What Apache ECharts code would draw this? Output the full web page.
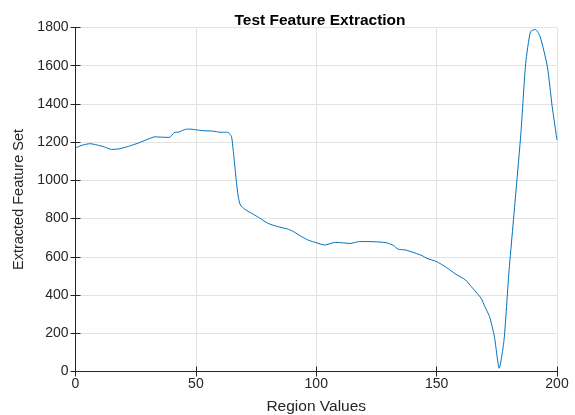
<!DOCTYPE html>
<html>
<head>
<meta charset="utf-8">
<script src="https://cdn.jsdelivr.net/npm/echarts@6/dist/echarts.min.js"></script>
<style>
html, body { margin: 0; padding: 0; background: #fff; }
#chart { width: 575px; height: 415px; }
</style>
</head>
<body>
<div id="chart"></div>
<script>
// region positions
var regionX = [0, 3, 6, 9, 12, 15, 18, 22, 26, 30, 33, 36, 39, 41, 43, 46, 48, 50, 53, 57,
    60, 62, 63.5, 64.8, 65.5, 66.2, 66.9, 67.6, 68.5, 70.3, 73.8, 76.6, 80, 84, 88, 90, 94, 97, 100, 103.5, 108,
    114, 118, 124, 129, 132, 134, 137, 141, 144, 146, 150, 154, 158, 162, 165, 168.5, 170, 172, 174, 176,
    178, 180, 183, 185, 187, 189, 191, 193, 196, 198, 200];
// extracted feature values
var featureY = [1170, 1185, 1192, 1185, 1175, 1162, 1165, 1178, 1195, 1215, 1228, 1226, 1225, 1250, 1253, 1268, 1268, 1265, 1260, 1258,
    1252, 1252, 1250, 1229, 1159, 1072, 985, 915, 871, 849, 823, 802, 775, 758, 746, 736, 705, 686, 674, 662, 676,
    670, 680, 679, 674, 660, 640, 636, 620, 606, 592, 575, 545, 509, 479, 435, 383, 340, 287, 182, 17,
    165, 514, 950, 1246, 1613, 1778, 1790, 1752, 1595, 1386, 1211];
var xTicks = [0, 50, 100, 150, 200];
var yTicks = [0, 200, 400, 600, 800, 1000, 1200, 1400, 1600, 1800];

var points = [];
for (var i = 0; i < regionX.length; i++) {
    points.push([regionX[i], featureY[i]]);
}

var chart = echarts.init(document.getElementById('chart'));
var fontFam = '"Liberation Sans", Arial, sans-serif';

var boxAxisLine = { show: true, lineStyle: { color: '#262626', width: 1 } };
var boxTick = { show: true, inside: true, length: 5, lineStyle: { color: '#262626' } };

var option = {
    animation: false,
    backgroundColor: '#fff',
    title: {
        text: 'Test Feature Extraction',
        left: 315,
        textAlign: 'center',
        top: 8,
        textStyle: { fontFamily: fontFam, fontSize: 15.5, fontWeight: 'bold', color: '#000' }
    },
    grid: { left: 75.5, right: 18, top: 27.5, bottom: 43.5, outerBoundsMode: 'none', containLabel: false },
    xAxis: [{
        type: 'value',
        min: 0, max: 200, interval: 50,
        name: 'Region Values',
        nameLocation: 'middle',
        nameGap: 27,
        nameTextStyle: { fontFamily: fontFam, fontSize: 15.5, color: '#262626' },
        axisLine: boxAxisLine,
        axisTick: boxTick,
        axisLabel: {
            fontFamily: fontFam, fontSize: 14, color: '#262626', margin: 6,
            formatter: function (v) { return xTicks.indexOf(v) >= 0 ? String(v) : ''; }
        },
        splitLine: { show: true, lineStyle: { color: '#e3e3e3', width: 1 } }
    }, {
        type: 'value', position: 'top',
        min: 0, max: 200, interval: 50,
        axisLine: boxAxisLine, axisTick: boxTick,
        axisLabel: { show: false }, splitLine: { show: false }
    }],
    yAxis: [{
        type: 'value',
        min: 0, max: 1800, interval: 200,
        name: 'Extracted Feature Set',
        nameLocation: 'middle',
        nameGap: 47,
        nameTextStyle: { fontFamily: fontFam, fontSize: 14.5, color: '#262626' },
        axisLine: boxAxisLine,
        axisTick: boxTick,
        axisLabel: {
            fontFamily: fontFam, fontSize: 14, color: '#262626', margin: 7,
            formatter: function (v) { return yTicks.indexOf(v) >= 0 ? String(v) : ''; }
        },
        splitLine: { show: true, lineStyle: { color: '#e3e3e3', width: 1 } }
    }, {
        type: 'value', position: 'right',
        min: 0, max: 1800, interval: 200,
        axisLine: boxAxisLine, axisTick: boxTick,
        axisLabel: { show: false }, splitLine: { show: false }
    }],
    series: [{
        type: 'line',
        data: points,
        xAxisIndex: 0,
        yAxisIndex: 0,
        smooth: 0.2,
        symbol: 'none',
        lineStyle: { color: '#0072BD', width: 1 }
    }]
};

chart.setOption(option);
</script>
</body>
</html>
